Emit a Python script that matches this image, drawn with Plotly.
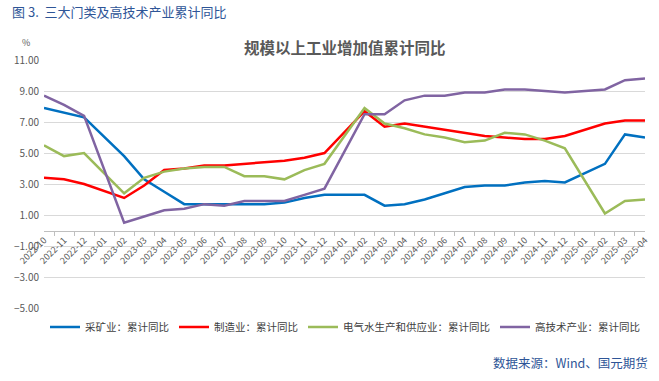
import plotly.graph_objects as go

categories = ["2022-10", "2022-11", "2022-12",
              "2023-01", "2023-02", "2023-03", "2023-04", "2023-05", "2023-06",
              "2023-07", "2023-08", "2023-09", "2023-10", "2023-11", "2023-12",
              "2024-01", "2024-02", "2024-03", "2024-04", "2024-05", "2024-06",
              "2024-07", "2024-08", "2024-09", "2024-10", "2024-11", "2024-12",
              "2025-01", "2025-02", "2025-03", "2025-04"]

mining = [7.9, 7.6, 7.3, None, 4.8, 3.3, 2.5, 1.7, 1.7, 1.7, 1.7, 1.7, 1.8, 2.1, 2.3,
          None, 2.3, 1.6, 1.7, 2.0, 2.4, 2.8, 2.9, 2.9, 3.1, 3.2, 3.1, None, 4.3, 6.2, 6.0]
manufacturing = [3.4, 3.3, 3.0, None, 2.1, 2.9, 3.9, 4.0, 4.2, 4.2, 4.3, 4.4, 4.5, 4.7, 5.0,
                 None, 7.7, 6.7, 6.9, 6.7, 6.5, 6.3, 6.1, 6.0, 5.9, 5.9, 6.1, None, 6.9, 7.1, 7.1]
utilities = [5.5, 4.8, 5.0, None, 2.4, 3.4, 3.8, 4.0, 4.1, 4.1, 3.5, 3.5, 3.3, 3.9, 4.3,
             None, 7.9, 6.9, 6.6, 6.2, 6.0, 5.7, 5.8, 6.3, 6.2, 5.8, 5.3, None, 1.1, 1.9, 2.0]
hightech = [8.7, 8.1, 7.4, None, 0.5, 0.9, 1.3, 1.4, 1.7, 1.6, 1.9, 1.9, 1.9, 2.3, 2.7,
            None, 7.5, 7.5, 8.4, 8.7, 8.7, 8.9, 8.9, 9.1, 9.1, 9.0, 8.9, None, 9.1, 9.7, 9.8]

series = [
    ("采矿业：累计同比", mining, "#0070C0"),
    ("制造业：累计同比", manufacturing, "#FF0000"),
    ("电气水生产和供应业：累计同比", utilities, "#9BBB59"),
    ("高技术产业：累计同比", hightech, "#8064A2"),
]

FONT = "Noto Sans CJK SC"
W, H = 659, 381
# plot area in window pixels: x 44..645, y 60..308
PL, PR, PT, PB = 44, 645, 60, 308
L, R, T, B = PL, W - PR, PT, H - PB
PW, PH = PR - PL, PB - PT


def px(x):
    return (x - PL) / PW


def py(y):
    return (PB - y) / PH


fig = go.Figure()
for name, vals, color in series:
    fig.add_trace(go.Scatter(
        x=categories, y=vals, name=name, mode="lines",
        line=dict(color=color, width=2.5), connectgaps=True,
    ))

ymin, ymax = -5, 11
fig.update_layout(
    width=W, height=H,
    margin=dict(l=L, r=R, t=T, b=B, pad=0, autoexpand=False),
    paper_bgcolor="white", plot_bgcolor="white",
    font=dict(family=FONT, color="#595959"),
    showlegend=True,
    legend=dict(orientation="h", x=px(45), y=py(327), xanchor="left", yanchor="middle",
                font=dict(size=10.5, color="#404040", family=FONT),
                itemwidth=30, tracegroupgap=0, bgcolor="rgba(0,0,0,0)"),
    xaxis=dict(type="category", anchor="free", position=(0 - ymin) / (ymax - ymin),
               showline=True, linecolor="#BFBFBF", linewidth=1,
               ticks="outside", tickson="boundaries", ticklen=4, tickcolor="#BFBFBF",
               showgrid=False, tickangle=-45,
               tickfont=dict(size=9, color="#595959", family=FONT)),
    yaxis=dict(range=[ymin, ymax], tick0=11, dtick=2, tickformat=".2f",
               showgrid=True, gridcolor="#D9D9D9", gridwidth=1, zeroline=False,
               showline=False, ticks="", ticklabelstandoff=4,
               tickfont=dict(size=10, color="#595959", family=FONT)),
)

fig.add_annotation(text="图 3.\u00a0\u00a0三大门类及高技术产业累计同比", xref="paper", yref="paper",
                   x=px(10), y=py(11), xanchor="left", yanchor="middle", showarrow=False,
                   font=dict(size=13, color="#2E5597", family=FONT))
fig.add_annotation(text="<b>规模以上工业增加值累计同比</b>", xref="paper", yref="paper",
                   x=px(345), y=py(47), xanchor="center", yanchor="middle", showarrow=False,
                   font=dict(size=15.5, color="#595959", family=FONT))
fig.add_annotation(text="%", xref="paper", yref="paper",
                   x=px(26), y=py(43), xanchor="center", yanchor="middle", showarrow=False,
                   font=dict(size=9, color="#595959", family=FONT))
fig.add_annotation(text="数据来源：Wind、国元期货", xref="paper", yref="paper",
                   x=px(650), y=py(362), xanchor="right", yanchor="middle", showarrow=False,
                   font=dict(size=12.5, color="#2E5597", family=FONT))

fig.write_html("out.html", config={"displayModeBar": False},
               post_script="document.body.style.margin='0';document.body.style.padding='0';")
